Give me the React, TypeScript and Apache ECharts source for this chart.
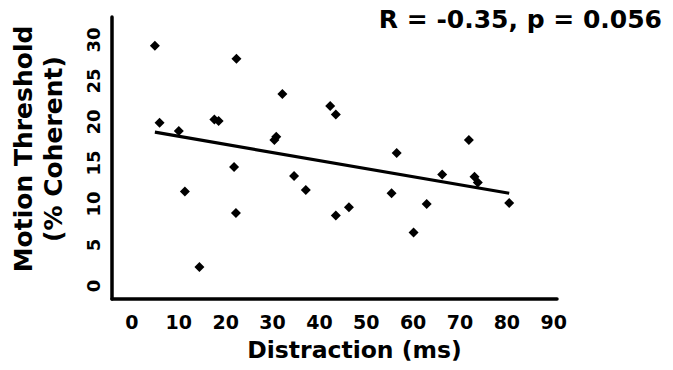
import React, { useEffect, useRef } from "react";
import * as echarts from "echarts";

const distraction = [4.9, 22.3, 5.9, 10.0, 17.6, 18.5, 32.1, 42.3, 43.5, 30.4, 30.8, 21.8, 34.6, 11.3, 37.1, 56.5, 55.4, 22.2, 46.3, 43.5, 14.4, 71.9, 66.2, 73.1, 73.8, 62.9, 60.1, 80.5];
const threshold = [29.3, 27.7, 19.9, 18.9, 20.3, 20.1, 23.4, 21.95, 20.9, 17.8, 18.2, 14.5, 13.4, 11.5, 11.7, 16.2, 11.3, 8.9, 9.6, 8.6, 2.3, 17.8, 13.6, 13.3, 12.6, 10.0, 6.5, 10.1];
const trendX = [4.9, 80.5];
const trendY = [18.75, 11.3];
const xTicks = [0, 10, 20, 30, 40, 50, 60, 70, 80, 90];
const yTicks = [0, 5, 10, 15, 20, 25, 30];
const titleText = "R = -0.35, p = 0.056";
const xName = "Distraction (ms)";
const yName = "Motion Threshold\n(% Coherent)";

const FONT = "DejaVu Sans";

export default function App() {
  const ref = useRef<HTMLDivElement>(null);
  useEffect(() => {
    if (!ref.current) return;
    const chart = echarts.init(ref.current, undefined, { renderer: "svg" });
    chart.setOption({
      animation: false,
      backgroundColor: "#ffffff",
      title: {
        text: titleText,
        right: 6,
        top: 2,
        textStyle: { fontFamily: FONT, fontWeight: "bold", fontSize: 25, color: "#000" },
      },
      grid: { left: 110, right: 116, top: 17, bottom: 71, containLabel: false },
      xAxis: {
        type: "value",
        min: -4.25,
        max: 90.7,
        name: xName,
        nameLocation: "middle",
        nameGap: 39,
        nameTextStyle: {
          fontFamily: FONT,
          fontWeight: "bold",
          fontSize: 23.5,
          color: "#000",
          padding: [0, 0, 0, 40],
        },
        axisLine: { show: true, onZero: false, lineStyle: { color: "#000", width: 3.5 } },
        axisTick: { show: false },
        splitLine: { show: false },
        axisLabel: {
          customValues: xTicks,
          margin: 13,
          fontFamily: FONT,
          fontWeight: "bold",
          fontSize: 19,
          color: "#000",
        },
      },
      yAxis: {
        type: "value",
        min: -1.6,
        max: 32.8,
        name: yName,
        nameLocation: "middle",
        nameRotate: 90,
        nameGap: 44,
        nameTextStyle: {
          fontFamily: FONT,
          fontWeight: "bold",
          fontSize: 25,
          lineHeight: 30,
          color: "#000",
          padding: [0, 0, 0, 18],
        },
        axisLine: { show: true, onZero: false, lineStyle: { color: "#000", width: 3.5 } },
        axisTick: { show: false },
        splitLine: { show: false },
        axisLabel: {
          customValues: yTicks,
          rotate: 90,
          margin: 10,
          fontFamily: FONT,
          fontWeight: "bold",
          fontSize: 18,
          color: "#000",
        },
      },
      series: [
        {
          type: "scatter",
          data: distraction.map((x, i) => [x, threshold[i]]),
          symbol: "diamond",
          symbolSize: [10, 10],
          itemStyle: { color: "#000", opacity: 1 },
          z: 3,
        },
        {
          type: "line",
          data: trendX.map((x, i) => [x, trendY[i]]),
          symbol: "none",
          lineStyle: { color: "#000", width: 3.2 },
          z: 2,
        },
      ],
    });
    return () => chart.dispose();
  }, []);
  return <div ref={ref} style={{ position: "fixed", left: 0, top: 0, width: 673, height: 370 }} />;
}
